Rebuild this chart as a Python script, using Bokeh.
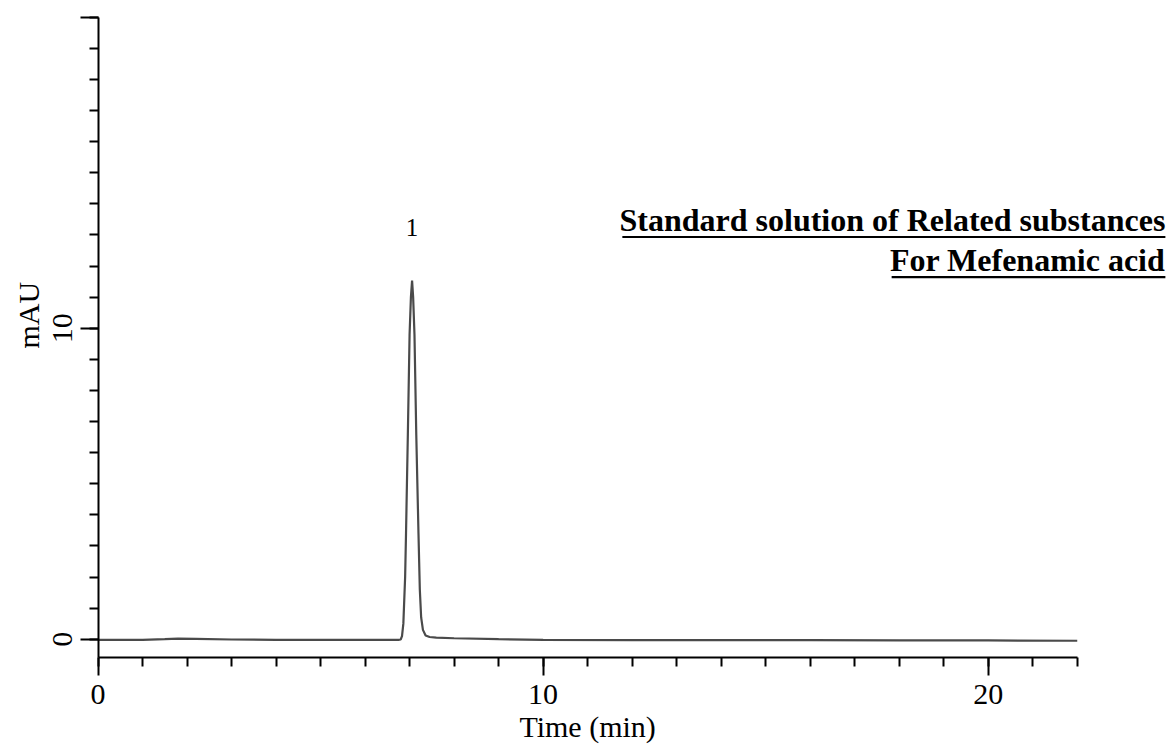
import math
from bokeh.plotting import figure
from bokeh.models import Range1d, FixedTicker, BoxAnnotation, ColumnDataSource
from bokeh.core.properties import value
from bokeh.embed import file_html
from bokeh.resources import INLINE

# ---- data ----
time_min = [0.0, 0.5, 1.0, 1.5, 1.8, 2.2, 3.0, 4.0, 5.0, 6.0, 6.5, 6.75, 6.80,
            6.83, 6.86, 6.90, 6.92, 6.96, 7.00, 7.03, 7.056, 7.08, 7.11, 7.15,
            7.20, 7.23, 7.26, 7.30, 7.36, 7.45, 7.6, 8.0, 9.0, 10.0, 12.0,
            14.0, 16.0, 18.0, 20.0, 22.0]
signal_mau = [-0.02, -0.02, -0.02, 0.0, 0.02, 0.01, -0.01, -0.02, -0.02, -0.02,
              -0.02, -0.02, -0.01, 0.1, 0.5, 2.0, 3.4, 6.5, 9.8, 11.0, 11.53,
              11.0, 9.8, 6.6, 3.4, 1.6, 0.7, 0.3, 0.12, 0.07, 0.05, 0.03, 0.0,
              -0.02, -0.03, -0.03, -0.03, -0.04, -0.04, -0.05]

peak_times = [7.056]
peak_heights = [11.53]
peak_names = ["1"]

x_bounds = (0, 22)
y_bounds = (-0.59, 20)
x_major_ticks = [0, 10, 20]
x_minor_ticks = list(range(0, 23))
y_major_ticks = [0, 10, 20]
y_minor_ticks = list(range(0, 21))

title_lines = ["Standard solution of Related substances", "For Mefenamic acid"]
x_label = "Time (min)"
y_label = "mAU"

FONT = "Liberation Serif"

# the frame covers the whole canvas; axes sit at fixed data locations
p = figure(width=1170, height=745,
           x_range=Range1d(-2.1905, 24.095), y_range=Range1d(-3.418, 20.537),
           output_backend="svg", toolbar_location=None,
           min_border_left=0, min_border_right=0,
           min_border_top=0, min_border_bottom=0)
p.min_border = 0
p.outline_line_color = None
p.xgrid.visible = False
p.ygrid.visible = False
p.background_fill_color = "white"
p.border_fill_color = "white"

p.line(time_min, signal_mau, line_color="#4a4a4a", line_width=2.2)

src = ColumnDataSource(dict(x=peak_times, y=peak_heights, t=peak_names))
p.text(x="x", y="y", text="t", source=src, y_offset=-53,
       text_align="center", text_baseline="alphabetic",
       text_font=value(FONT), text_font_size="25px", text_color="black")

for ax in (p.xaxis[0], p.yaxis[0]):
    ax.axis_line_width = 2
    ax.axis_line_color = "black"
    ax.major_tick_line_width = 2
    ax.minor_tick_line_width = 2
    ax.major_tick_line_color = "black"
    ax.minor_tick_line_color = "black"
    ax.major_tick_out = 18
    ax.major_tick_in = 0
    ax.minor_tick_out = 9
    ax.minor_tick_in = 0
    ax.major_label_text_font = FONT
    ax.major_label_text_font_size = "30px"
    ax.major_label_text_color = "black"

xa = p.xaxis[0]
xa.ticker = FixedTicker(ticks=x_major_ticks, minor_ticks=x_minor_ticks)
xa.bounds = x_bounds
xa.fixed_location = y_bounds[0]
xa.major_label_standoff = 9

ya = p.yaxis[0]
ya.ticker = FixedTicker(ticks=y_major_ticks, minor_ticks=y_minor_ticks)
ya.bounds = y_bounds
ya.fixed_location = x_bounds[0]
ya.major_label_overrides = {20: ""}
ya.major_label_orientation = "vertical"
ya.major_label_standoff = 8

# axis titles
p.text(x=[11.0], y=[-3.22], text=[x_label], y_offset=-13, text_align="center",
       text_baseline="alphabetic", text_font=value(FONT),
       text_font_size="30px", text_color="black")
p.text(x=[-1.254], y=[10.42], text=[y_label], x_offset=-14, angle=math.pi / 2,
       text_align="center", text_baseline="alphabetic", text_font=value(FONT),
       text_font_size="30px", text_color="black")

# title block (right aligned, bold, underlined)
title_x = 23.98
title_y = [13.045, 11.755]
title_left = [11.78, 17.83]
p.text(x=[title_x] * len(title_lines), y=title_y, text=title_lines, y_offset=-14,
       text_align="right", text_baseline="alphabetic", text_font=value(FONT),
       text_font_style="bold", text_font_size="32px", text_color="black")
for yb, xl in zip(title_y, title_left):
    p.add_layout(BoxAnnotation(left=xl, right=title_x,
                               bottom=yb - 0.145, top=yb - 0.08,
                               fill_color="black", fill_alpha=1.0,
                               line_alpha=0.0))

open("out.html", "w").write(file_html(p, INLINE))
